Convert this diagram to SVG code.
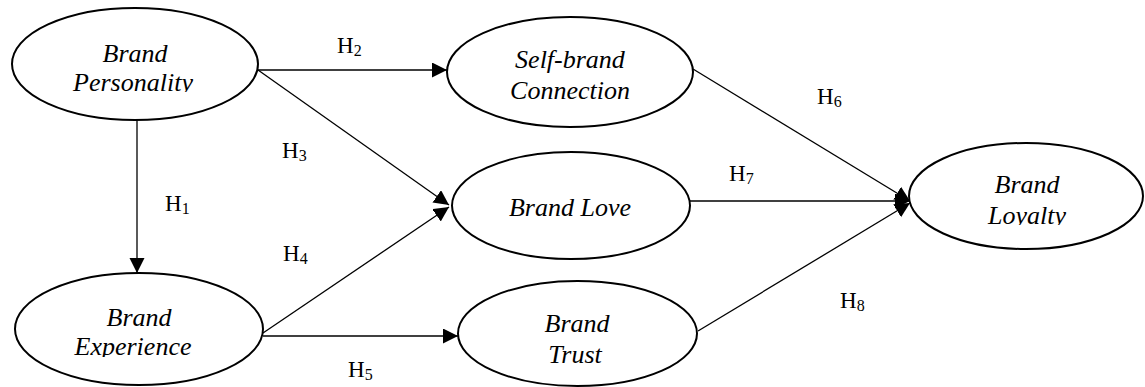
<svg xmlns="http://www.w3.org/2000/svg" width="1145" height="387" viewBox="0 0 1145 387">
  <style>
    .node { fill: #fff; stroke: #000; stroke-width: 2; }
    .lbl { font-family: "Liberation Serif", "Times New Roman", serif; font-style: italic; font-size: 26px; fill: #000; text-anchor: middle; }
    .edge { stroke: #000; stroke-width: 1.3; fill: none; marker-end: url(#arrow); }
    .h { font-family: "Liberation Serif", "Times New Roman", serif; font-size: 23px; fill: #000; }
    .sub { font-size: 16px; }
  </style>
  <defs>
    <marker id="arrow" markerUnits="userSpaceOnUse" markerWidth="16" markerHeight="16" refX="15" refY="7.5" orient="auto" viewBox="0 0 16 16">
      <path d="M0,0 L15,7.5 L0,15 z" fill="#000"/>
    </marker>
    <clipPath id="clipPers"><rect x="0" y="0" width="300" height="92"/></clipPath>
    <clipPath id="clipLoy"><rect x="880" y="130" width="265" height="95"/></clipPath>
    <clipPath id="clipExp"><rect x="0" y="260" width="300" height="97"/></clipPath>
  </defs>

  <g id="connectors">
    <line class="edge" x1="137" y1="120" x2="137" y2="273"/>
    <line class="edge" x1="258" y1="70" x2="447" y2="70"/>
    <line class="edge" x1="258" y1="70" x2="449" y2="205"/>
    <line class="edge" x1="263" y1="333" x2="449" y2="207"/>
    <line class="edge" x1="263" y1="336" x2="458" y2="336"/>
    <line class="edge" x1="693" y1="69" x2="910" y2="201"/>
    <line class="edge" x1="690" y1="201" x2="910" y2="201"/>
    <line class="edge" x1="698" y1="331" x2="910" y2="203"/>
  </g>

  <g id="edge-labels">
    <text class="h" x="165" y="211">H<tspan class="sub" dy="3">1</tspan></text>
    <text class="h" x="337" y="53">H<tspan class="sub" dy="3">2</tspan></text>
    <text class="h" x="282" y="158">H<tspan class="sub" dy="3">3</tspan></text>
    <text class="h" x="283" y="261">H<tspan class="sub" dy="3">4</tspan></text>
    <text class="h" x="348" y="377">H<tspan class="sub" dy="3">5</tspan></text>
    <text class="h" x="817" y="104">H<tspan class="sub" dy="3">6</tspan></text>
    <text class="h" x="729" y="181">H<tspan class="sub" dy="3">7</tspan></text>
    <text class="h" x="840" y="308">H<tspan class="sub" dy="3">8</tspan></text>
  </g>

  <g id="brand-personality">
    <ellipse class="node" cx="135" cy="64" rx="123" ry="56"/>
    <text class="lbl" x="135" y="62">Brand</text>
    <text class="lbl" x="133" y="91" clip-path="url(#clipPers)">Personality</text>
  </g>
  <g id="brand-experience">
    <ellipse class="node" cx="139" cy="329" rx="124" ry="56"/>
    <text class="lbl" x="139" y="326">Brand</text>
    <text class="lbl" x="133" y="355" clip-path="url(#clipExp)">Experience</text>
  </g>
  <g id="self-brand-connection">
    <ellipse class="node" cx="570" cy="72" rx="123" ry="55"/>
    <text class="lbl" x="570" y="68">Self-brand</text>
    <text class="lbl" x="570" y="99">Connection</text>
  </g>
  <g id="brand-love">
    <ellipse class="node" cx="571" cy="205.5" rx="119" ry="53.5"/>
    <text class="lbl" x="570" y="216">Brand Love</text>
  </g>
  <g id="brand-trust">
    <ellipse class="node" cx="577.5" cy="333.5" rx="119.5" ry="52.5"/>
    <text class="lbl" x="577" y="332">Brand</text>
    <text class="lbl" x="575" y="363">Trust</text>
  </g>
  <g id="brand-loyalty">
    <ellipse class="node" cx="1026" cy="196" rx="117" ry="53"/>
    <text class="lbl" x="1027" y="193">Brand</text>
    <text class="lbl" x="1027" y="224" clip-path="url(#clipLoy)">Loyalty</text>
  </g>
</svg>
